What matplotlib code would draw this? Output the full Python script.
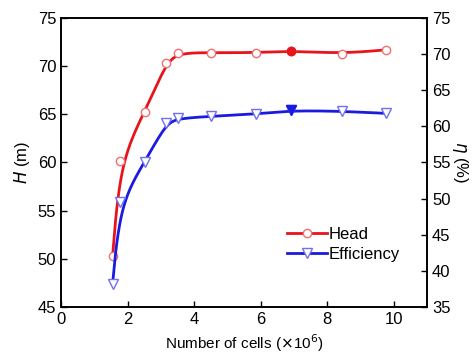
import numpy as np
import matplotlib
matplotlib.use("Agg")
import matplotlib.pyplot as plt

plt.rcParams["font.family"] = ["Liberation Sans", "DejaVu Sans"]

# mesh sizes (x10^6 cells)
cells = [1.55, 1.78, 2.51, 3.15, 3.52, 4.52, 5.87, 6.90, 8.43, 9.76]
head = [50.3, 60.2, 65.2, 70.3, 71.4, 71.4, 71.4, 71.6, 71.3, 71.7]
eff = [38.2, 49.5, 55.0, 60.4, 61.1, 61.4, 61.7, 62.2, 62.1, 61.8]
chosen = 7  # index of the mesh that was picked (filled marker)


def bspline_line(x, y, n=30):
    # clamped cubic b-spline with the points as control points (drawing only)
    p = np.column_stack([x, y]).astype(float)
    p = np.vstack([p[0], p[0], p, p[-1], p[-1]])
    t = np.linspace(0, 1, n)[:, None]
    b0 = (1 - t) ** 3 / 6
    b1 = (3 * t**3 - 6 * t**2 + 4) / 6
    b2 = (-3 * t**3 + 3 * t**2 + 3 * t + 1) / 6
    b3 = t**3 / 6
    segs = [b0 * p[i] + b1 * p[i + 1] + b2 * p[i + 2] + b3 * p[i + 3]
            for i in range(len(p) - 3)]
    c = np.vstack(segs)
    return c[:, 0], c[:, 1]


fig = plt.figure(figsize=(4.73, 3.54), dpi=100)
ax = fig.add_axes([0.129, 0.133, 0.774, 0.816])
ax2 = ax.twinx()

red = "#e8141c"
blue = "#1a1ae0"

hx, hy = bspline_line(cells, head)
ax.plot(hx, hy, color=red, lw=2)
ax.plot(cells, head, "o", ms=6, mfc="white", mec="#f07070", mew=1)
ax.plot(cells[chosen], head[chosen], "o", ms=6, color=red)

ex, ey = bspline_line(cells, eff)
ax2.plot(ex, ey, color=blue, lw=2)
ax2.plot(cells, eff, "v", ms=7, mfc="white", mec="#7070f0", mew=1)
ax2.plot(cells[chosen], eff[chosen], "v", ms=7, color=blue)

# legend handles
ax.plot([], [], color=red, lw=2, marker="o", ms=6, mfc="white",
        mec="#f07070", label="Head")
ax.plot([], [], color=blue, lw=2, marker="v", ms=7, mfc="white",
        mec="#7070f0", label="Efficiency")
ax.legend(loc="upper left", bbox_to_anchor=(0.6, 0.30), frameon=False,
          fontsize=12, handlelength=2.4, handletextpad=0.05,
          labelspacing=0.3, borderaxespad=0)

ax.set_xlim(0, 11)
ax.set_ylim(45, 75)
ax2.set_ylim(35, 75)
ax.set_xticks([0, 2, 4, 6, 8, 10])
ax.set_yticks([45, 50, 55, 60, 65, 70, 75])
ax2.set_yticks([35, 40, 45, 50, 55, 60, 65, 70, 75])

ax.tick_params(direction="in", length=4, width=1, labelsize=12, top=False)
ax2.tick_params(direction="in", length=4, width=1, labelsize=12)
for a in (ax, ax2):
    for s in a.spines.values():
        s.set_linewidth(1.2)

ax.set_xlabel(r"Number of cells ($\times$10$^6$)", fontsize=11, labelpad=4)
ax.set_ylabel(r"$H$ (m)", fontsize=12, labelpad=4)
ax2.set_ylabel(r"$\eta$ (%)", fontsize=12, rotation=270, labelpad=14)

fig.savefig("out.png", dpi=100)
